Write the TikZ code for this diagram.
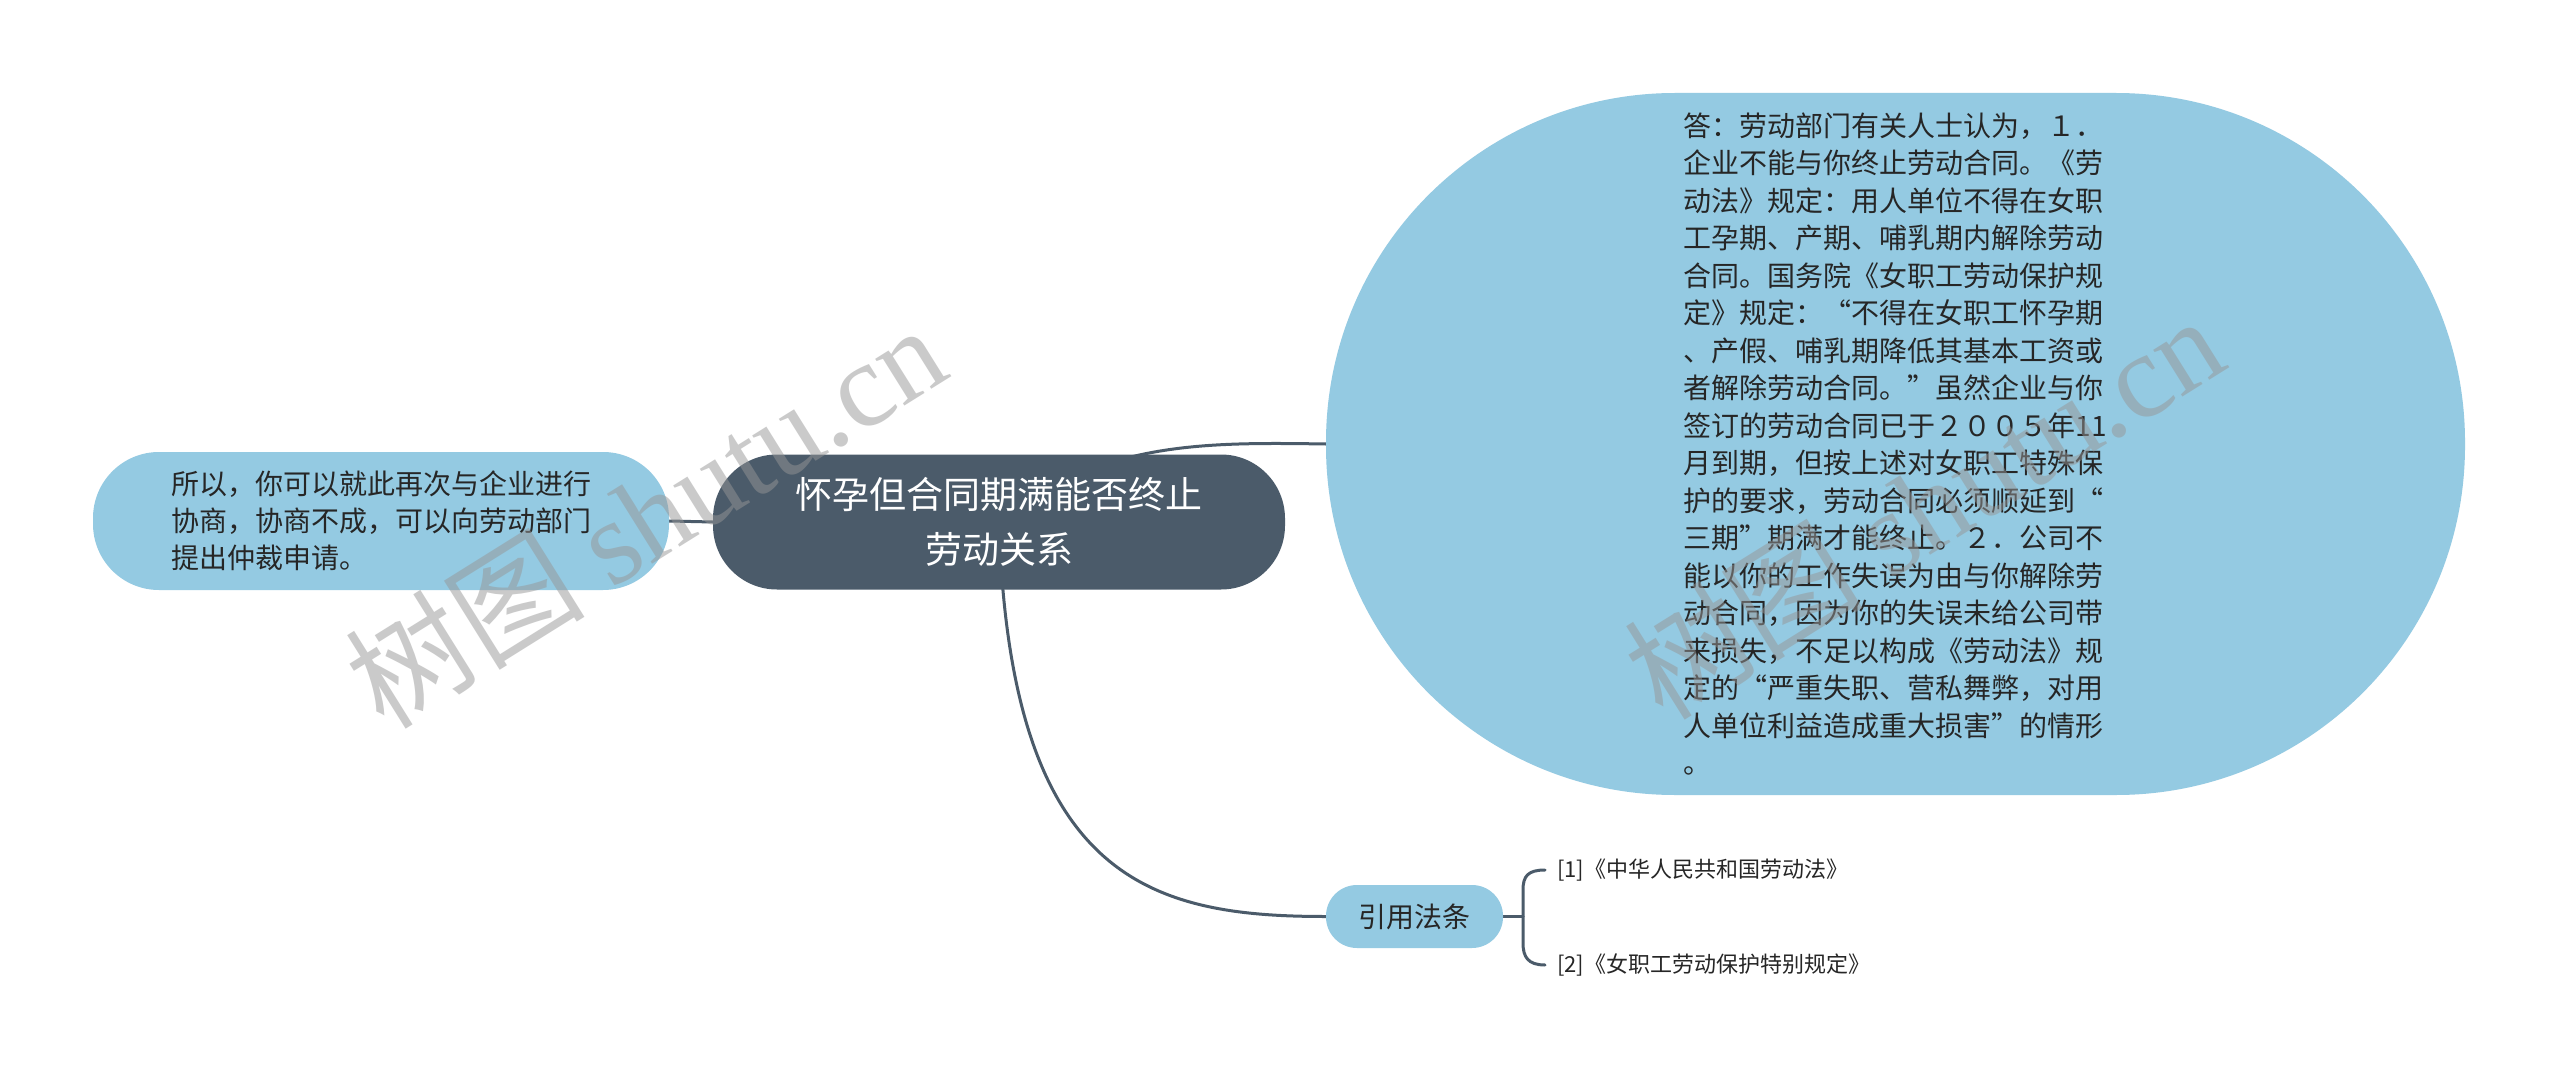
\documentclass[tikz,border=0pt]{standalone}
\usepackage{fontspec}
\setmainfont{Noto Sans CJK SC}
\newfontfamily\wmlatin{Liberation Serif}
\usetikzlibrary{calc}
\definecolor{mainc}{RGB}{75,91,106}
\definecolor{leafc}{RGB}{148,202,226}
\definecolor{txtc}{RGB}{38,38,38}
\definecolor{wmc}{RGB}{150,150,150}
\pgfdeclarelayer{bg}
\pgfsetlayers{bg,main}
\tikzset{
  conn/.style={draw=mainc, line width=3pt, line cap=round},
  centralbox/.style={fill=mainc, text=white, inner sep=0pt, align=center,
    font=\fontsize{37pt}{55pt}\selectfont},
  leafbox/.style={fill=leafc, text=txtc, inner sep=0pt,
    font=\fontsize{28pt}{37pt}\selectfont},
  reftext/.style={anchor=west, text=txtc, inner sep=0pt,
    font=\fontsize{22pt}{26pt}\selectfont},
  wmark/.style={rotate=32, text=wmc, opacity=0.5, inner sep=0pt,
    font=\fontsize{120pt}{120pt}\selectfont}
}
\begin{document}
\begin{tikzpicture}[x=1pt,y=-1pt]
\useasboundingbox (0,0) rectangle (2560,1083);

\node[centralbox, minimum width=572pt, minimum height=135pt, rounded corners=64pt] (c) at (999,522)
  {怀孕但合同期满能否终止\\劳动关系};

\node[leafbox, minimum width=576pt, minimum height=138pt, rounded corners=66pt, align=left] (l) at (381,521)
  {所以，你可以就此再次与企业进行\\协商，协商不成，可以向劳动部门\\提出仲裁申请。};

\node[leafbox, minimum width=1139pt, minimum height=702pt, rounded corners=349pt, align=left,
  font=\fontsize{28pt}{37.5pt}\selectfont] (r) at (1895.5,444)
  {答：劳动部门有关人士认为，１．\\
   企业不能与你终止劳动合同。《劳\\
   动法》规定：用人单位不得在女职\\
   工孕期、产期、哺乳期内解除劳动\\
   合同。国务院《女职工劳动保护规\\
   定》规定：“不得在女职工怀孕期\\
   、产假、哺乳期降低其基本工资或\\
   者解除劳动合同。”虽然企业与你\\
   签订的劳动合同已于２００５年11\\
   月到期，但按上述对女职工特殊保\\
   护的要求，劳动合同必须顺延到“\\
   三期”期满才能终止。２．公司不\\
   能以你的工作失误为由与你解除劳\\
   动合同，因为你的失误未给公司带\\
   来损失，不足以构成《劳动法》规\\
   定的“严重失职、营私舞弊，对用\\
   人单位利益造成重大损害”的情形\\
   。};

\node[leafbox, minimum width=177pt, minimum height=63pt, rounded corners=31pt] (cite) at (1414.5,916.5) {引用法条};

\node[reftext] (r1) at (1557,870) {[1]《中华人民共和国劳动法》};
\node[reftext] (r2) at (1557,965) {[2]《女职工劳动保护特别规定》};

\begin{pgfonlayer}{bg}
\fill[white] (0,0) rectangle (2560,1083);
\draw[conn] (c.center) .. controls (1100,442) and (1200,442) .. (r.west);
\draw[conn] (l.east) -- (c.west);
\draw[conn] (c.center) .. controls (1010,880) and (1150,916.5) .. (cite.west);
\draw[conn] (cite.east) -- (1523,916.5);
\draw[conn] ($(r1.west)+(-12,0)$) .. controls (1528,870) and (1523,876) .. (1523,890)
  -- (1523,943) .. controls (1523,957) and (1528,965) .. ($(r2.west)+(-12,0)$);
\end{pgfonlayer}

\node[wmark] (wm1) at (645,515) {树图 {\wmlatin shutu.cn}};
\node[wmark] (wm2) at (1923,506) {树图 {\wmlatin shutu.cn}};
\end{tikzpicture}
\end{document}
